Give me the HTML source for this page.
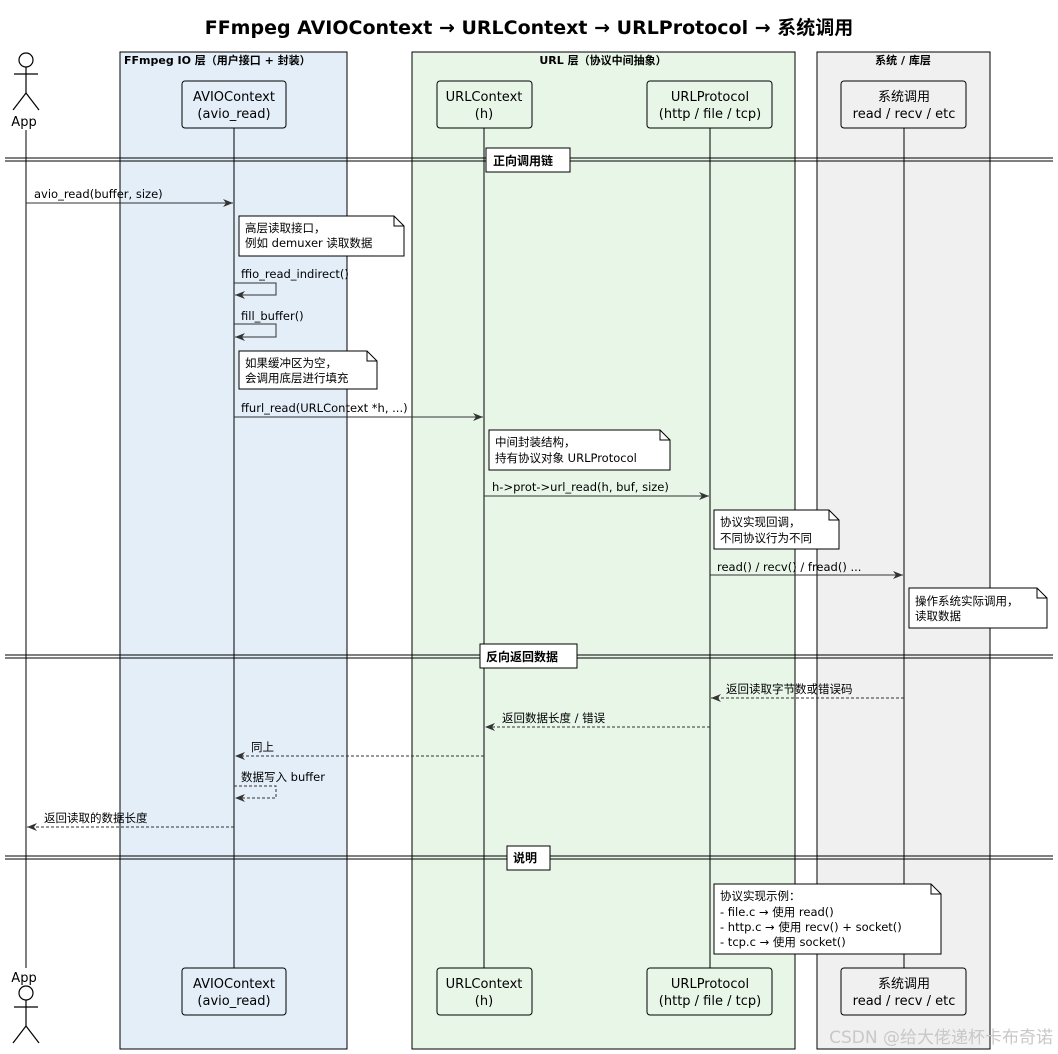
<!DOCTYPE html>
<html><head><meta charset="utf-8"><style>
html,body{margin:0;padding:0;background:#fff;}
svg{display:block;font-family:"DejaVu Sans","Noto Sans CJK SC",sans-serif;}
</style></head><body>
<svg width="1058" height="1054" viewBox="0 0 1058 1054" xmlns="http://www.w3.org/2000/svg">
<defs>
<marker id="a" markerWidth="10" markerHeight="8" refX="10" refY="4" orient="auto" markerUnits="userSpaceOnUse"><path d="M0,0 L10,4 L0,8 L3,4 Z" fill="#333"/></marker>
</defs>
<text x="529" y="34" font-size="19" font-weight="bold" text-anchor="middle" fill="#000">FFmpeg AVIOContext → URLContext → URLProtocol → 系统调用</text>
<rect x="120" y="52" width="227" height="997" fill="#e3eef9" stroke="#000"/>
<text x="124" y="64" font-size="11" font-weight="bold">FFmpeg IO 层（用户接口 + 封装）</text>
<rect x="412" y="52" width="383" height="997" fill="#e8f6e8" stroke="#000"/>
<text x="603" y="64" font-size="11" font-weight="bold" text-anchor="middle">URL 层（协议中间抽象）</text>
<rect x="817" y="52" width="173" height="997" fill="#f0f0f0" stroke="#000"/>
<text x="903" y="64" font-size="11" font-weight="bold" text-anchor="middle">系统 / 库层</text>
<g stroke="#000" stroke-width="1">
<line x1="26" y1="130" x2="26" y2="968"/>
<line x1="234" y1="128" x2="234" y2="968"/>
<line x1="484" y1="128" x2="484" y2="968"/>
<line x1="710" y1="128" x2="710" y2="968"/>
<line x1="904" y1="128" x2="904" y2="968"/>
</g>
<g stroke="#000" fill="none" stroke-width="1.2">
<circle cx="26" cy="60" r="7" fill="#fff"/><line x1="26" y1="67" x2="26" y2="93"/><line x1="14" y1="74" x2="38" y2="74"/><line x1="26" y1="93" x2="13" y2="110"/><line x1="26" y1="93" x2="39" y2="110"/>
<circle cx="26" cy="993" r="7" fill="#fff"/><line x1="26" y1="1000" x2="26" y2="1026"/><line x1="14" y1="1007" x2="38" y2="1007"/><line x1="26" y1="1026" x2="13" y2="1043"/><line x1="26" y1="1026" x2="39" y2="1043"/>
</g>
<g font-size="13" text-anchor="middle">
<text x="24" y="126">App</text><text x="24" y="982">App</text>
</g>
<g fill="#fff" stroke="#000">
<rect x="182" y="81" width="104" height="47" rx="3" fill="#e3eef9"/>
<rect x="437" y="81" width="95" height="47" rx="3" fill="#e8f6e8"/>
<rect x="647" y="81" width="125" height="47" rx="3" fill="#e8f6e8"/>
<rect x="841" y="81" width="125" height="47" rx="3" fill="#f0f0f0"/>
<rect x="182" y="968" width="104" height="47" rx="3" fill="#e3eef9"/>
<rect x="437" y="968" width="95" height="47" rx="3" fill="#e8f6e8"/>
<rect x="647" y="968" width="125" height="47" rx="3" fill="#e8f6e8"/>
<rect x="841" y="968" width="125" height="47" rx="3" fill="#f0f0f0"/>
</g>
<g font-size="13" text-anchor="middle">
<text x="234" y="101">AVIOContext</text><text x="234" y="118">(avio_read)</text>
<text x="484" y="101">URLContext</text><text x="484" y="118">(h)</text>
<text x="710" y="101">URLProtocol</text><text x="710" y="118">(http / file / tcp)</text>
<text x="904" y="101">系统调用</text><text x="904" y="118">read / recv / etc</text>
<text x="234" y="988">AVIOContext</text><text x="234" y="1005">(avio_read)</text>
<text x="484" y="988">URLContext</text><text x="484" y="1005">(h)</text>
<text x="710" y="988">URLProtocol</text><text x="710" y="1005">(http / file / tcp)</text>
<text x="904" y="988">系统调用</text><text x="904" y="1005">read / recv / etc</text>
</g>
<g stroke="#000" stroke-width="1">
<line x1="5" y1="158" x2="1053" y2="158"/><line x1="5" y1="161" x2="1053" y2="161"/>
<line x1="5" y1="655" x2="1053" y2="655"/><line x1="5" y1="658" x2="1053" y2="658"/>
<line x1="5" y1="856" x2="1053" y2="856"/><line x1="5" y1="859" x2="1053" y2="859"/>
</g>
<g fill="#fff" stroke="#000">
<rect x="486" y="148" width="84" height="24"/>
<rect x="480" y="644" width="97" height="24"/>
<rect x="507" y="846" width="43" height="24"/>
</g>
<g font-size="12" font-weight="bold">
<text x="493" y="165">正向调用链</text>
<text x="486" y="661">反向返回数据</text>
<text x="513" y="862">说明</text>
</g>
<g fill="#fff" stroke="#000">
<path d="M239,216 H394 L404,226 V256 H239 Z"/><path d="M394,216 V226 H404" fill="none"/>
<path d="M239,351 H367 L377,361 V389 H239 Z"/><path d="M367,351 V361 H377" fill="none"/>
<path d="M489,430 H660 L670,440 V470 H489 Z"/><path d="M660,430 V440 H670" fill="none"/>
<path d="M714,510 H829 L839,520 V549 H714 Z"/><path d="M829,510 V520 H839" fill="none"/>
<path d="M909,588 H1037 L1047,598 V628 H909 Z"/><path d="M1037,588 V598 H1047" fill="none"/>
<path d="M714,884 H931 L941,894 V954 H714 Z"/><path d="M931,884 V894 H941" fill="none"/>
</g>
<g font-size="11.5">
<text x="245" y="232">高层读取接口，</text><text x="245" y="247">例如 demuxer 读取数据</text>
<text x="245" y="367">如果缓冲区为空，</text><text x="245" y="382">会调用底层进行填充</text>
<text x="495" y="446">中间封装结构，</text><text x="495" y="462">持有协议对象 URLProtocol</text>
<text x="720" y="526">协议实现回调，</text><text x="720" y="542">不同协议行为不同</text>
<text x="915" y="605">操作系统实际调用，</text><text x="915" y="620">读取数据</text>
<text x="720" y="900">协议实现示例：</text><text x="720" y="916">- file.c → 使用 read()</text><text x="720" y="931">- http.c → 使用 recv() + socket()</text><text x="720" y="946">- tcp.c → 使用 socket()</text>
</g>
<g stroke="#333" stroke-width="1" fill="none">
<line x1="26" y1="203" x2="233" y2="203" marker-end="url(#a)"/>
<polyline points="234,283 276,283 276,295 235,295" marker-end="url(#a)"/>
<polyline points="234,324 276,324 276,337 235,337" marker-end="url(#a)"/>
<line x1="234" y1="417" x2="483" y2="417" marker-end="url(#a)"/>
<line x1="484" y1="496" x2="709" y2="496" marker-end="url(#a)"/>
<line x1="710" y1="575" x2="903" y2="575" marker-end="url(#a)"/>
<g stroke-dasharray="3,2">
<line x1="904" y1="698" x2="711" y2="698" marker-end="url(#a)"/>
<line x1="710" y1="727" x2="485" y2="727" marker-end="url(#a)"/>
<line x1="484" y1="756" x2="235" y2="756" marker-end="url(#a)"/>
<polyline points="234,786 276,786 276,798 235,798" marker-end="url(#a)"/>
<line x1="234" y1="827" x2="27" y2="827" marker-end="url(#a)"/>
</g>
</g>
<g font-size="11.5">
<text x="34" y="198">avio_read(buffer, size)</text>
<text x="241" y="278">ffio_read_indirect()</text>
<text x="241" y="320">fill_buffer()</text>
<text x="241" y="412">ffurl_read(URLContext *h, ...)</text>
<text x="492" y="491">h-&gt;prot-&gt;url_read(h, buf, size)</text>
<text x="717" y="571">read() / recv() / fread() ...</text>
<text x="726" y="693">返回读取字节数或错误码</text>
<text x="502" y="722">返回数据长度 / 错误</text>
<text x="251" y="751">同上</text>
<text x="241" y="781">数据写入 buffer</text>
<text x="44" y="822">返回读取的数据长度</text>
</g>
<text x="1053" y="1043" font-size="17" fill="#c8c8c8" text-anchor="end">CSDN @给大佬递杯卡布奇诺</text>
</svg>
</body></html>
